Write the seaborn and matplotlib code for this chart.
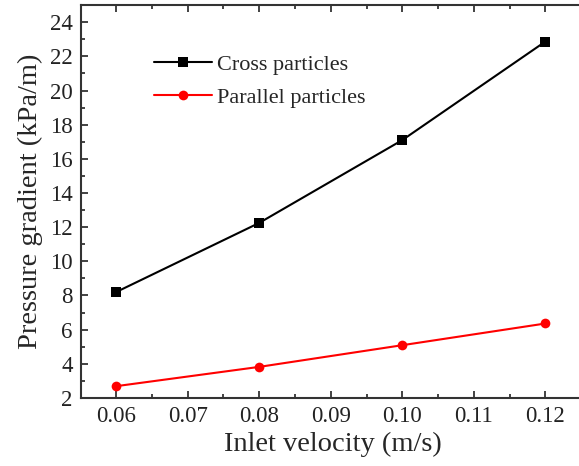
import matplotlib
matplotlib.use("Agg")
import matplotlib.pyplot as plt
from matplotlib.ticker import MultipleLocator
import pandas as pd
import seaborn as sns

# values
velocity = [0.06, 0.08, 0.10, 0.12]
cross = [8.2, 12.25, 17.1, 22.87]
parallel = [2.69, 3.82, 5.09, 6.36]

df = pd.DataFrame({
    "velocity": velocity * 2,
    "gradient": cross + parallel,
    "case": ["Cross particles"] * 4 + ["Parallel particles"] * 4,
})

sns.set_style("ticks")
plt.rcParams["font.family"] = ["Liberation Serif", "DejaVu Serif"]

fig = plt.figure(figsize=(5.79, 4.66), dpi=100)
ax = fig.add_axes([0.140, 0.146, 0.87, 0.843])

sns.lineplot(data=df, x="velocity", y="gradient", hue="case", style="case",
             palette={"Cross particles": "black", "Parallel particles": "red"},
             markers={"Cross particles": "s", "Parallel particles": "o"},
             dashes=False, linewidth=1.5, markersize=7, markeredgewidth=0,
             ax=ax)

ax.set_xlim(0.0551, 0.1255)
ax.set_ylim(2, 25)
ax.xaxis.set_minor_locator(MultipleLocator(0.005))
ax.yaxis.set_major_locator(MultipleLocator(2))
ax.yaxis.set_minor_locator(MultipleLocator(1))
ax.set_xticks([0.06, 0.07, 0.08, 0.09, 0.10, 0.11, 0.12])
ax.set_xticklabels(["0.06", "0.07", "0.08", "0.09", "0.10", "0.11", "0.12"])

ax.tick_params(which="both", direction="in", top=True, right=False,
               width=1.2, colors="#222222")
ax.tick_params(which="major", length=5, labelsize=16.5, pad=6)
ax.tick_params(which="minor", length=3)
for s in ax.spines.values():
    s.set_linewidth(1.5)
    s.set_color("#333333")

ax.set_xlabel("Inlet velocity (m/s)", fontsize=20.5, labelpad=3)
ax.set_ylabel("Pressure gradient (kPa/m)", fontsize=20.5, labelpad=5)

leg = ax.legend(loc="upper left", bbox_to_anchor=(0.105, 0.925), frameon=False,
                fontsize=16, handlelength=2.6, handletextpad=0.25,
                labelspacing=0.55)

fig.savefig("out.png", dpi=100)
